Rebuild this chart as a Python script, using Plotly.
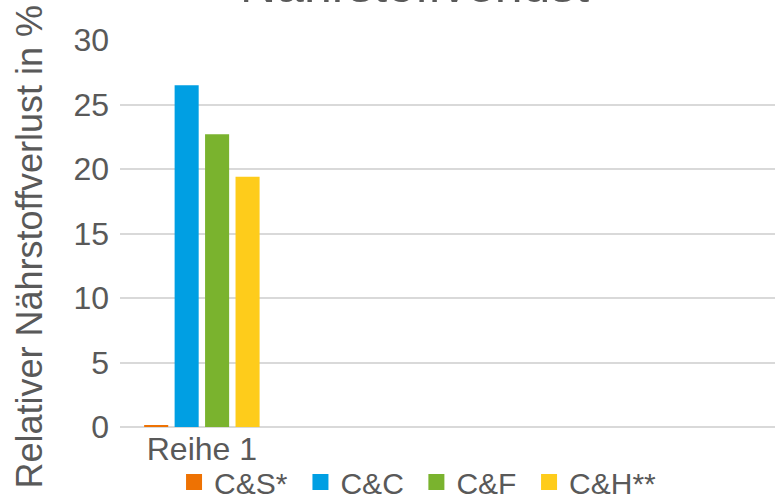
import plotly.graph_objects as go

# Daten
categories = ['Reihe 1', ' ', '  ', '   ']
series_names = ['C&S*', 'C&C', 'C&F', 'C&H**']
series_values = [0.1, 26.5, 22.7, 19.4]
colors = ['#EE7203', '#009FE3', '#7AB32E', '#FECC1B']
y_ticks = [0, 5, 10, 15, 20, 25, 30]

FONT = 'Liberation Sans, Arial, sans-serif'
GRAY = '#595959'

# linke Kante jedes Legendeneintrags (paper-Koordinaten)
legend_x = [0.0825, 0.2755, 0.4525, 0.6245]

fig = go.Figure()
legend_ids = ['legend', 'legend2', 'legend3', 'legend4']
for name, val, col, lid in zip(series_names, series_values, colors, legend_ids):
    fig.add_trace(go.Bar(x=[categories[0]], y=[val], name=name, marker_color=col,
                         marker_line_width=0, legendgroup=name, showlegend=False))
    # Legendeneintrag mit größerem Quadrat
    fig.add_trace(go.Scatter(x=[None], y=[None], mode='markers', name=name, legendgroup=name,
                             legend=lid, marker=dict(symbol='square', size=18, color=col)))

legends = {}
for lid, lx in zip(legend_ids, legend_x):
    legends[lid] = dict(orientation='h', x=lx, xanchor='left', yref='container', y=0,
                        yanchor='bottom', font=dict(size=30, color=GRAY),
                        itemsizing='trace', bgcolor='rgba(0,0,0,0)')

# Figur etwas höher als das Fenster, damit die Legende tiefer sitzt
fig.update_layout(
    width=775, height=508,
    margin=dict(l=120, r=0, t=40, b=81),
    paper_bgcolor='white', plot_bgcolor='white',
    font=dict(family=FONT, color=GRAY, size=32),
    barmode='group', bargap=0.256, bargroupgap=0.21,
    showlegend=True,
    annotations=[
        dict(text='Nährstoffverlust', xref='paper', yref='paper',
             x=0.45, y=1, xanchor='center', yanchor='bottom', yshift=25,
             showarrow=False, font=dict(size=50, color=GRAY, family=FONT)),
        dict(text='Relativer Nährstoffverlust in %', xref='paper', yref='paper',
             x=0, y=0.5, xanchor='center', yanchor='middle', xshift=-91, yshift=-13,
             textangle=-90, showarrow=False, font=dict(size=36, color=GRAY, family=FONT)),
    ],
    **legends,
)
fig.update_xaxes(type='category', categoryarray=categories, range=[-0.5, 3.5],
                 tickvals=[categories[0]], ticktext=[categories[0]], automargin=False,
                 showgrid=False, showline=False, ticks='', tickfont=dict(size=32, color=GRAY))
fig.update_yaxes(range=[0, 30], tickvals=y_ticks, showgrid=True, gridcolor='#D9D9D9',
                 gridwidth=1.5, zeroline=True, zerolinecolor='#D9D9D9', zerolinewidth=2,
                 ticks='', ticklabelstandoff=10, automargin=False,
                 tickfont=dict(size=32, color=GRAY))

fig.write_html('out.html', config={'displayModeBar': False},
               post_script="document.body.style.margin='0';document.body.style.overflow='hidden';")
